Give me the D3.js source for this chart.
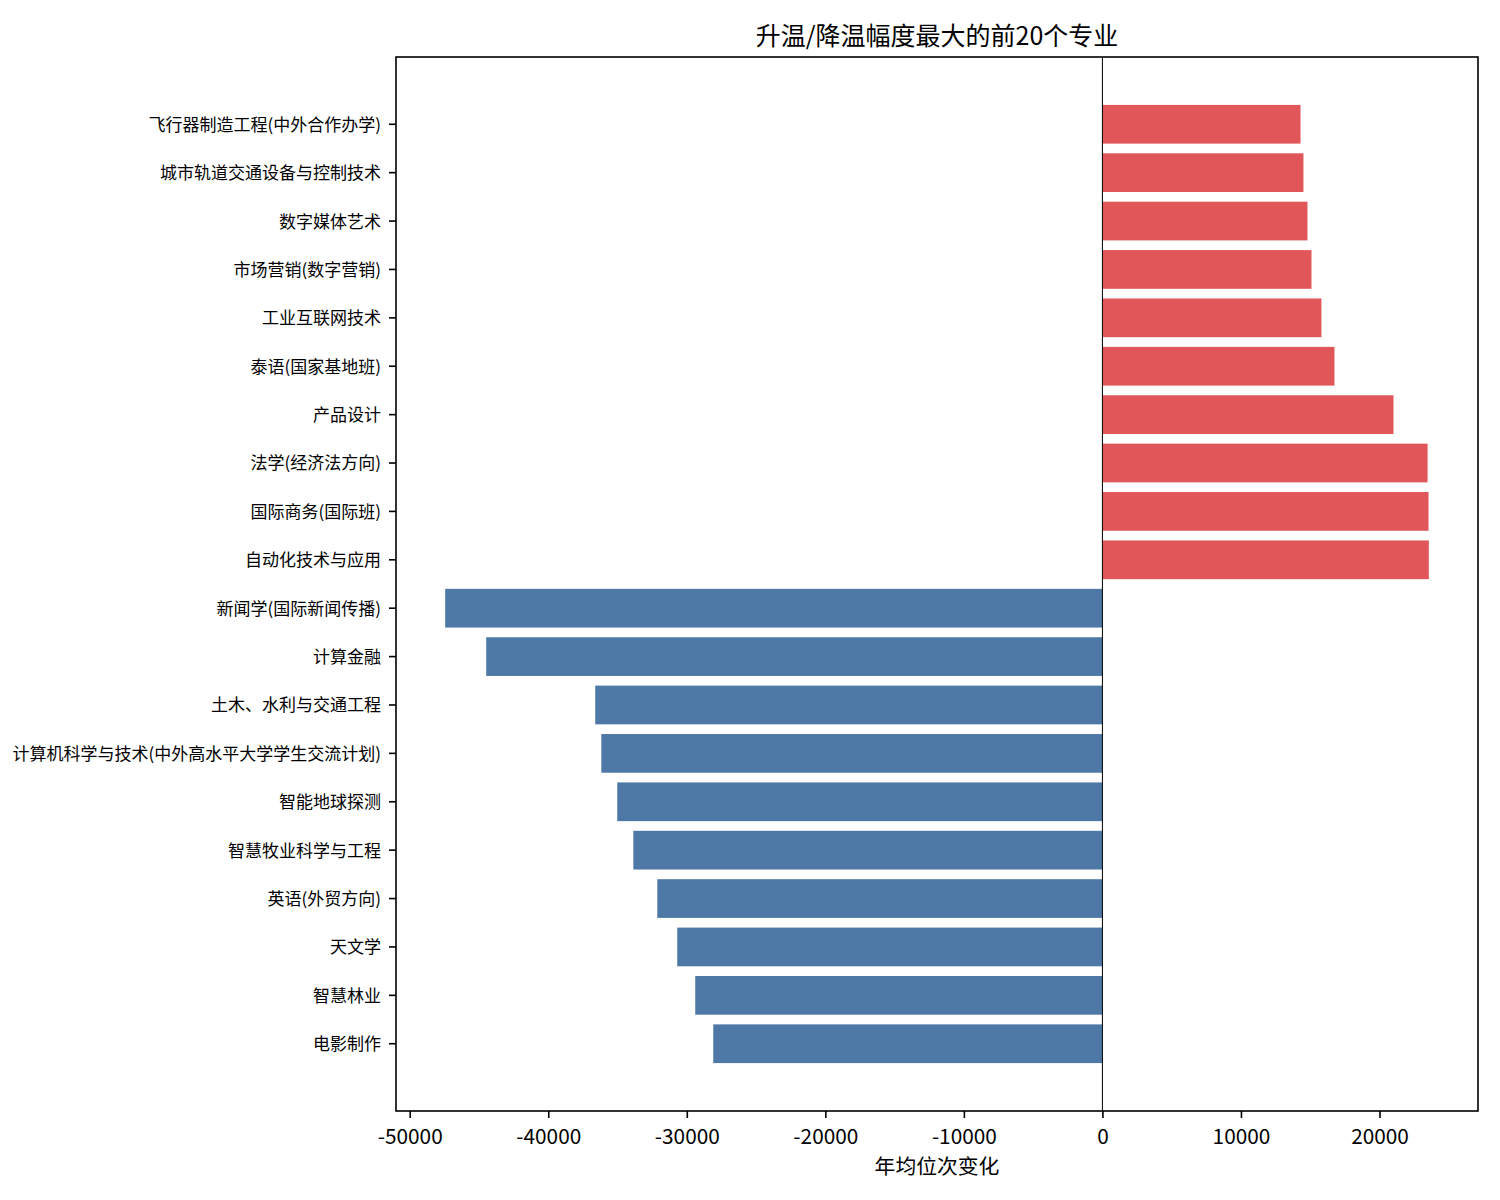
<!DOCTYPE html>
<html>
<head>
<meta charset="utf-8">
<script src="https://cdn.jsdelivr.net/npm/d3@7"></script>
<style>
  body { margin: 0; background: #fff; }
  svg { font-family: "Noto Sans CJK SC", "Noto Sans", sans-serif; }
</style>
</head>
<body>
<div id="chart"></div>
<script>
// majors listed top to bottom
const majors = [
  "飞行器制造工程(中外合作办学)", "城市轨道交通设备与控制技术", "数字媒体艺术",
  "市场营销(数字营销)", "工业互联网技术", "泰语(国家基地班)", "产品设计",
  "法学(经济法方向)", "国际商务(国际班)", "自动化技术与应用",
  "新闻学(国际新闻传播)", "计算金融", "土木、水利与交通工程",
  "计算机科学与技术(中外高水平大学学生交流计划)", "智能地球探测",
  "智慧牧业科学与工程", "英语(外贸方向)", "天文学", "智慧林业", "电影制作"
];
const changes = [
  14300, 14510, 14800, 15090, 15810, 16750, 21010, 23470, 23540, 23560,
  -47440, -44480, -36610, -36170, -35020, -33860, -32130, -30690, -29390, -28090
];
const xTicks = [-50000, -40000, -30000, -20000, -10000, 0, 10000, 20000];

const title = "升温/降温幅度最大的前20个专业";
const xLabel = "年均位次变化";

const width = 1500, height = 1200;
const margin = {top: 57, right: 22, bottom: 89, left: 396};
const font = '"Noto Sans CJK SC", "Noto Sans", sans-serif';

const data = majors.map((m, i) => ({name: m, value: changes[i]}));

const svg = d3.select("#chart").append("svg")
  .attr("width", width)
  .attr("height", height);

const lo = d3.min(changes), hi = d3.max(changes);
const pad = (hi - lo) * 0.05;

const x = d3.scaleLinear()
  .domain([lo - pad, hi + pad])
  .range([margin.left, width - margin.right]);

const y = d3.scaleBand()
  .domain(majors)
  .range([margin.top, height - margin.bottom])
  .paddingInner(0.2)
  .paddingOuter(0.99);

svg.append("g")
  .selectAll("rect")
  .data(data)
  .join("rect")
  .attr("x", d => x(Math.min(0, d.value)))
  .attr("y", d => y(d.name))
  .attr("width", d => Math.abs(x(d.value) - x(0)))
  .attr("height", y.bandwidth())
  .attr("fill", d => d.value >= 0 ? "#e15759" : "#4e79a7");

// zero line
svg.append("line")
  .attr("x1", x(0)).attr("x2", x(0))
  .attr("y1", margin.top).attr("y2", height - margin.bottom)
  .attr("stroke", "#000")
  .attr("stroke-width", 1);

const xAxis = g => g
  .attr("transform", `translate(0, ${height - margin.bottom})`)
  .call(d3.axisBottom(x).tickValues(xTicks).tickFormat(d => String(d))
    .tickSizeOuter(0).tickSize(7).tickPadding(11))
  .attr("font-family", font)
  .call(g => g.selectAll("line").attr("stroke-width", 1.6))
  .call(g => g.selectAll("text").style("font-size", "20.8px").attr("fill", "#000"))
  .call(g => g.select(".domain").remove());

const yAxis = g => g
  .attr("transform", `translate(${margin.left}, 0)`)
  .call(d3.axisLeft(y).tickSizeOuter(0).tickSize(7).tickPadding(8))
  .attr("font-family", font)
  .call(g => g.selectAll("line").attr("stroke-width", 1.6))
  .call(g => g.selectAll("text").style("font-size", "17px").attr("dy", "0.38em").attr("fill", "#000"))
  .call(g => g.select(".domain").remove());

svg.append("g").call(xAxis);
svg.append("g").call(yAxis);

// frame
svg.append("rect")
  .attr("x", margin.left)
  .attr("y", margin.top)
  .attr("width", width - margin.left - margin.right)
  .attr("height", height - margin.top - margin.bottom)
  .attr("fill", "none")
  .attr("stroke", "#000")
  .attr("stroke-width", 1.6);

svg.append("text")
  .attr("x", (margin.left + width - margin.right) / 2)
  .attr("y", 45)
  .attr("text-anchor", "middle")
  .style("font-size", "25px")
  .text(title);

svg.append("text")
  .attr("x", (margin.left + width - margin.right) / 2)
  .attr("y", 1174)
  .attr("text-anchor", "middle")
  .style("font-size", "20.8px")
  .text(xLabel);
</script>
</body>
</html>
